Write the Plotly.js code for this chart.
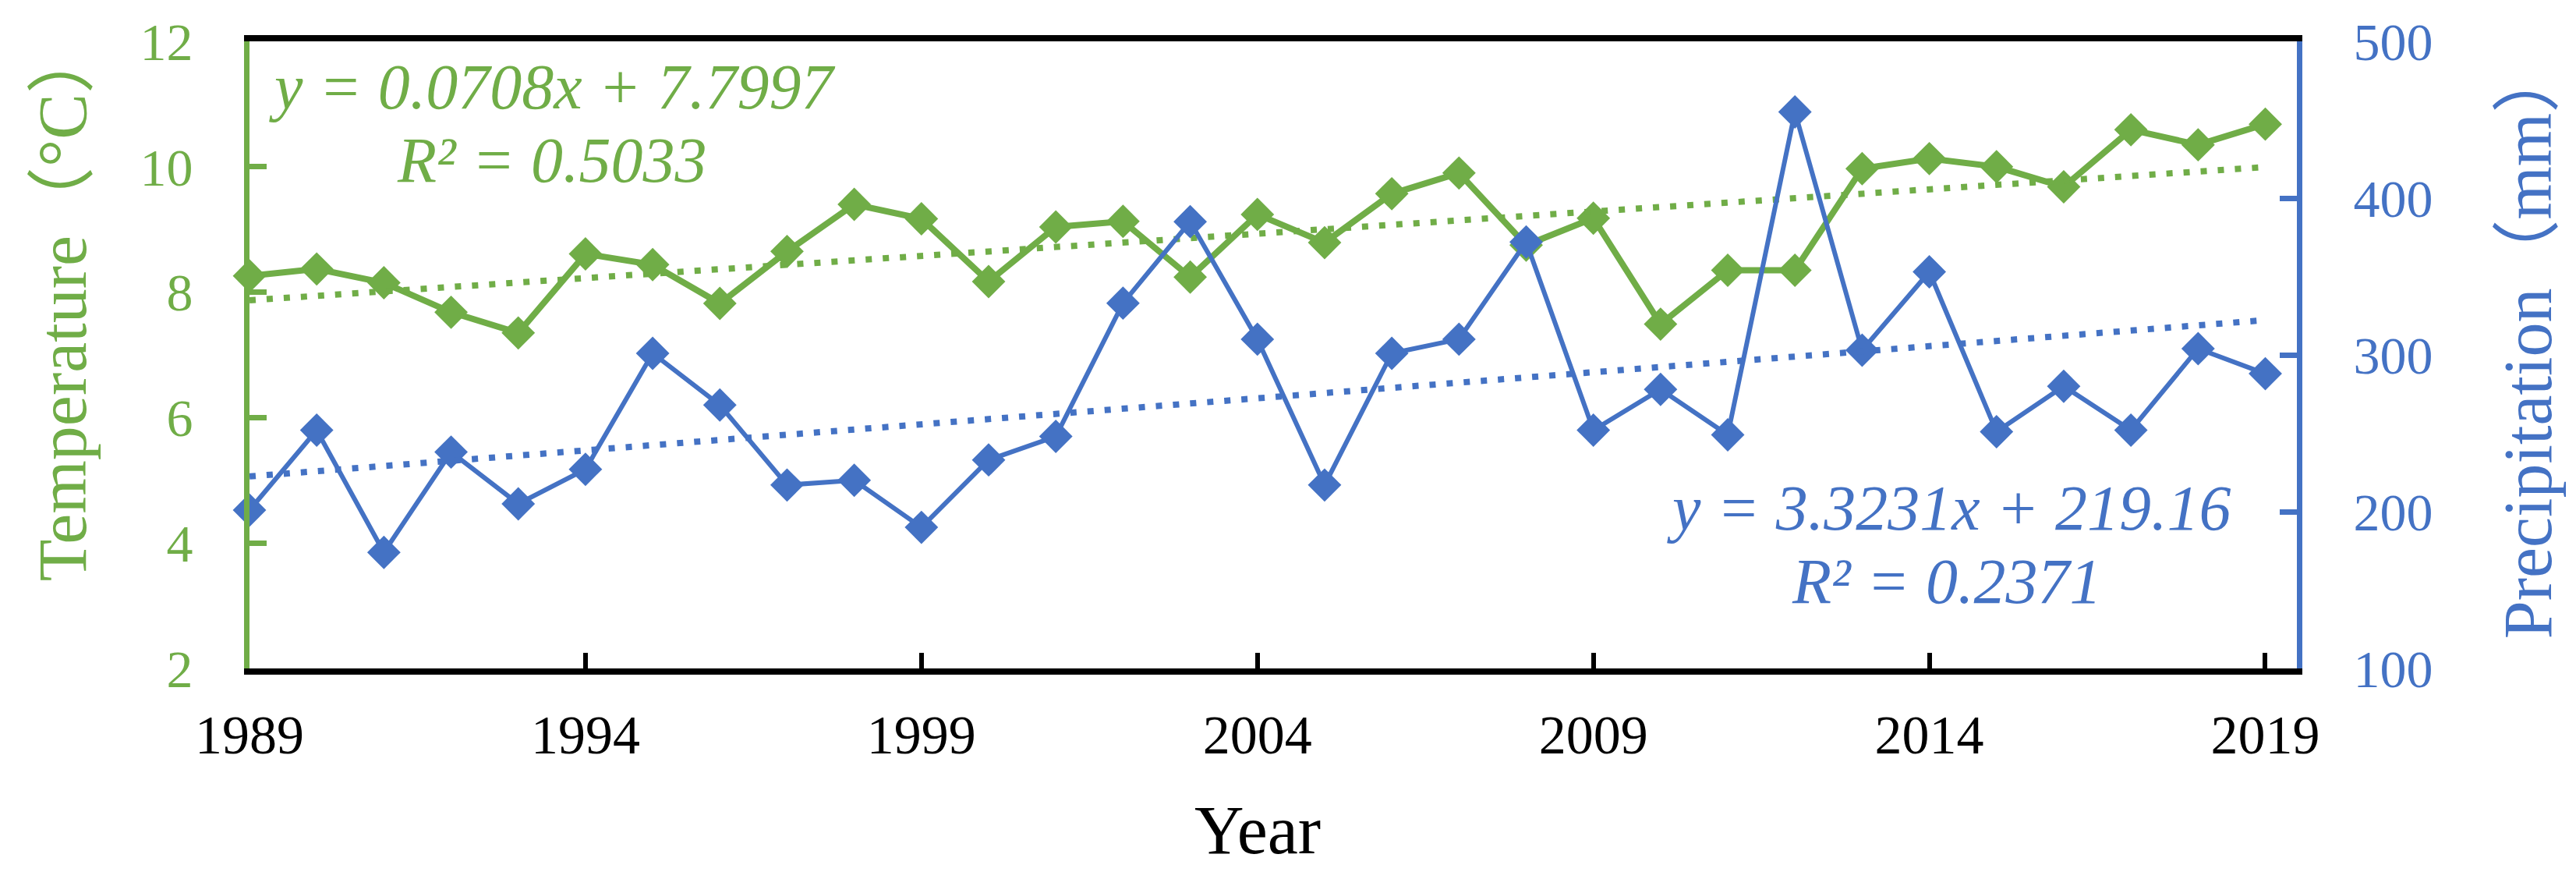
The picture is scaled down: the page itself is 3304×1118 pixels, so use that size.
<!DOCTYPE html>
<html>
<head>
<meta charset="utf-8">
<script src="https://cdn.plot.ly/plotly-3.0.1.min.js"></script>
<style>html,body{margin:0;padding:0;background:#fff;}#chart{width:3304px;height:1118px;}</style>
</head>
<body>
<div id="chart"></div>
<script>
// ---- data ----
const years = [1989,1990,1991,1992,1993,1994,1995,1996,1997,1998,1999,2000,2001,2002,2003,2004,2005,2006,2007,2008,2009,2010,2011,2012,2013,2014,2015,2016,2017,2018,2019];
const temperature = [8.26,8.37,8.15,7.68,7.35,8.61,8.44,7.82,8.65,9.40,9.17,8.17,9.04,9.13,8.24,9.24,8.79,9.57,9.90,8.75,9.18,7.49,8.35,8.35,9.97,10.13,10.00,9.68,10.59,10.35,10.68];
const precipitation = [201,252,174,238,205,227,301,268,217,220,190,233,248,333,385,310,217,301,310,372,252,278,249,455,303,353,251,280,252,304,288];
const yearTicks = [1989,1994,1999,2004,2009,2014,2019];
const tempTicks = [2,4,6,8,10,12];
const precipTicks = [100,200,300,400,500];
const tempSlope = 0.0708, tempIntercept = 7.7997, tempR2 = 0.5033;
const precipSlope = 3.3231, precipIntercept = 219.16, precipR2 = 0.2371;

const GREEN = '#70AD47';
const BLUE = '#4472C4';
const FONT = "'Liberation Serif', 'Times New Roman', 'Noto Sans CJK SC', serif";

// trend line endpoints from the regression equations (x = 1..n)
const n = years.length;
const trendX = [years[0], years[n-1]];
const tempTrend = [tempSlope*1 + tempIntercept, tempSlope*n + tempIntercept];
const precipTrend = [precipSlope*1 + precipIntercept, precipSlope*n + precipIntercept];

const traces = [
  {x: years, y: temperature, type: 'scatter', mode: 'lines+markers', yaxis: 'y', cliponaxis: false,
   line: {color: GREEN, width: 8}, marker: {symbol: 'diamond', size: 33, color: GREEN}},
  {x: years, y: precipitation, type: 'scatter', mode: 'lines+markers', yaxis: 'y2', cliponaxis: false,
   line: {color: BLUE, width: 6}, marker: {symbol: 'diamond', size: 33, color: BLUE}},
  {x: trendX, y: tempTrend, type: 'scatter', mode: 'lines', yaxis: 'y', cliponaxis: false,
   line: {color: GREEN, width: 8, dash: '8px,14px'}},
  {x: trendX, y: precipTrend, type: 'scatter', mode: 'lines', yaxis: 'y2', cliponaxis: false,
   line: {color: BLUE, width: 8, dash: '8px,14px'}}
];

const eqFont = (c) => ({family: FONT, size: 82, color: c});
const layout = {
  width: 3304, height: 1118,
  margin: {l: 320, r: 358, t: 53, b: 261, pad: 0},
  paper_bgcolor: '#fff', plot_bgcolor: '#fff',
  showlegend: false,
  xaxis: {range: [1989, 2019.47], tickvals: yearTicks, ticktext: yearTicks.map(String),
    showline: true, linecolor: '#000', linewidth: 8, mirror: true,
    ticks: 'inside', ticklen: 20, tickwidth: 6, tickcolor: '#000',
    tickfont: {family: FONT, size: 70, color: '#000'}, ticklabelstandoff: 17,
    showgrid: false, zeroline: false},
  yaxis: {range: [2, 12], tickvals: tempTicks, ticktext: tempTicks.map(String),
    showline: true, linecolor: GREEN, linewidth: 7,
    ticks: 'inside', ticklen: 22, tickwidth: 7, tickcolor: GREEN,
    tickfont: {family: FONT, size: 68, color: GREEN}, ticklabelstandoff: 52,
    showgrid: false, zeroline: false},
  yaxis2: {range: [100, 500], tickvals: precipTicks, ticktext: precipTicks.map(String),
    overlaying: 'y', side: 'right', anchor: 'x',
    showline: true, linecolor: BLUE, linewidth: 7,
    ticks: 'inside', ticklen: 22, tickwidth: 7, tickcolor: BLUE,
    tickfont: {family: FONT, size: 68, color: BLUE}, ticklabelstandoff: 52,
    showgrid: false, zeroline: false},
  annotations: [
    {text: '<i>y = ' + tempSlope.toFixed(4) + 'x + ' + tempIntercept.toFixed(4) + '</i>', xref: 'paper', yref: 'paper',
     x: 0.1478, y: 0.927, xanchor: 'center', yanchor: 'middle', showarrow: false, font: eqFont(GREEN)},
    {text: '<i>R² = ' + tempR2.toFixed(4) + '</i>', xref: 'paper', yref: 'paper',
     x: 0.1478, y: 0.810, xanchor: 'center', yanchor: 'middle', showarrow: false, font: eqFont(GREEN)},
    {text: '<i>y = ' + precipSlope.toFixed(4) + 'x + ' + precipIntercept.toFixed(2) + '</i>', xref: 'paper', yref: 'paper',
     x: 0.8298, y: 0.255, xanchor: 'center', yanchor: 'middle', showarrow: false, font: eqFont(BLUE)},
    {text: '<i>R² = ' + precipR2.toFixed(4) + '</i>', xref: 'paper', yref: 'paper',
     x: 0.8290, y: 0.139, xanchor: 'center', yanchor: 'middle', showarrow: false, font: eqFont(BLUE)},
    {text: 'Year', xref: 'x', yref: 'paper', x: 2004, y: -0.258, xanchor: 'center', yanchor: 'middle',
     showarrow: false, font: {family: FONT, size: 88, color: '#000'}},
    {text: 'Temperature（°C）', xref: 'paper', yref: 'paper', x: -0.0914, y: 0.583, textangle: -90,
     xanchor: 'center', yanchor: 'middle', showarrow: false, font: {family: FONT, size: 88, color: GREEN}},
    {text: 'Precipitation（mm）', xref: 'paper', yref: 'paper', x: 1.1127, y: 0.522, textangle: -90,
     xanchor: 'center', yanchor: 'middle', showarrow: false, font: {family: FONT, size: 88, color: BLUE}}
  ]
};

Plotly.newPlot('chart', traces, layout, {staticPlot: true, displayModeBar: false});
</script>
</body>
</html>
